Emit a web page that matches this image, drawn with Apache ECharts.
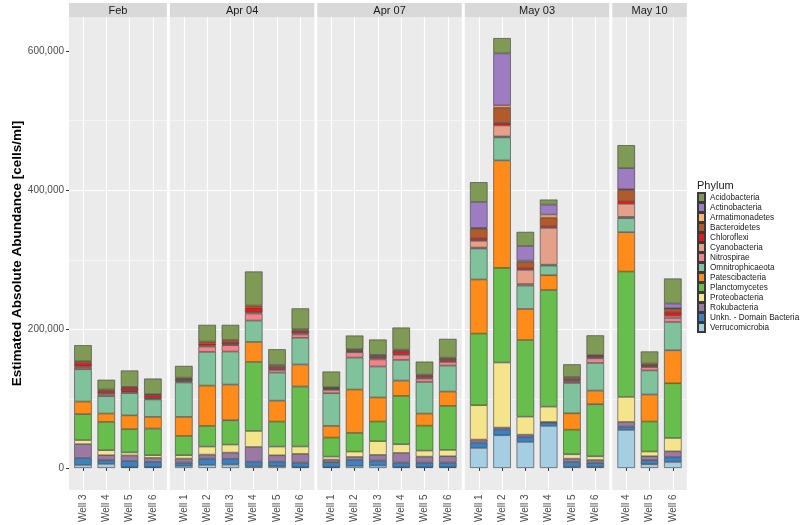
<!DOCTYPE html>
<html><head><meta charset="utf-8">
<script src="https://cdn.jsdelivr.net/npm/echarts@6/dist/echarts.min.js"></script>
<style>html,body{margin:0;padding:0;background:#fff}#chart{width:800px;height:525px}</style>
</head><body><div id="chart"></div>
<script>
// ---------------- DATA ----------------
const facets = ['Feb', 'Apr 04', 'Apr 07', 'May 03', 'May 10'];
const wellsFeb   = ['Well 3', 'Well 4', 'Well 5', 'Well 6'];
const wellsApr04 = ['Well 1', 'Well 2', 'Well 3', 'Well 4', 'Well 5', 'Well 6'];
const wellsApr07 = ['Well 1', 'Well 2', 'Well 3', 'Well 4', 'Well 5', 'Well 6'];
const wellsMay03 = ['Well 1', 'Well 2', 'Well 3', 'Well 4', 'Well 5', 'Well 6'];
const wellsMay10 = ['Well 4', 'Well 5', 'Well 6'];
const yTicks = [0, 200000, 400000, 600000];

// legend order (top of stack first)
const phyla = ['Acidobacteria', 'Actinobacteria', 'Armatimonadetes', 'Bacteroidetes', 'Chloroflexi',
  'Cyanobacteria', 'Nitrospirae', 'Omnitrophicaeota', 'Patescibacteria', 'Planctomycetes',
  'Proteobacteria', 'Rokubacteria', 'Unkn. - Domain Bacteria', 'Verrucomicrobia'];
const phylumColors = ['#7F9A55', '#9D7CC1', '#FDB46E', '#B35A2A', '#E31A1C',
  '#E5A089', '#F3828A', '#80C29B', '#FF8C1A', '#68BE4D',
  '#F4E48C', '#9A7AA4', '#3A82C2', '#A6CEE3'];

// values per bar, in order: Feb(W3..W6), Apr04(W1..W6), Apr07(W1..W6), May03(W1..W6), May10(W4..W6)
const acidobacteria   = [23000, 14000, 23500, 22500,  16800, 24000, 21600, 49000, 22600, 29800,  22600, 19700, 22000, 31700, 18700, 26900,  28300, 22000, 20200, 7200, 18200, 28300,  33100, 17300, 36000];
const actinobacteria  = [0, 0, 0, 0,  0, 0, 0, 0, 0, 0,  0, 0, 0, 0, 0, 0,  37400, 74900, 21100, 14400, 0, 0,  30200, 0, 6700];
const armatimonadetes = [0, 0, 0, 0,  0, 0, 0, 0, 0, 0,  0, 0, 0, 0, 0, 0,  1000, 3400, 1900, 4300, 0, 0,  1000, 0, 500];
const bacteroidetes   = [2900, 2400, 1400, 1400,  1900, 2900, 2900, 2900, 2900, 2400,  1400, 1900, 1900, 1900, 1900, 1900,  13400, 21600, 8600, 12000, 2900, 1400,  16300, 2400, 4800];
const chloroflexi     = [4800, 2900, 4800, 3800,  1900, 2900, 3400, 6700, 2900, 3400,  1000, 1000, 2900, 4300, 2400, 2900,  4300, 3800, 2900, 2900, 2400, 1900,  3800, 1400, 5800];
const cyanobacteria   = [1500, 1900, 1000, 1000,  1400, 1400, 1400, 1900, 1400, 1900,  1400, 1400, 1900, 1400, 1400, 1400,  9600, 15800, 20200, 52800, 1400, 1400,  18700, 1400, 2900];
const nitrospirae     = [2400, 2400, 1900, 1400,  1900, 7700, 9100, 10100, 3800, 4800,  4800, 7700, 10100, 7200, 4800, 5300,  1400, 1400, 2400, 1400, 1900, 6700,  1900, 4800, 5800];
const omnitrophicaeota= [46500, 25000, 32000, 25000,  49400, 48500, 47500, 30700, 40300, 38400,  47000, 46000, 44600, 29800, 45600, 37400,  44600, 33100, 33600, 13900, 43700, 39800,  20200, 34600, 40800];
const patescibacteria = [18000, 12000, 19700, 16800,  27400, 58000, 51400, 28800, 30200, 31700,  16800, 62400, 34600, 22000, 17300, 20600,  77800, 154600, 44600, 21100, 23500, 19700,  56600, 38900, 47500];
const planctomycetes  = [37400, 40800, 33600, 38400,  27800, 29800, 35000, 99400, 36000, 86400,  27400, 26900, 28300, 69600, 36000, 63400,  103200, 136300, 110400, 168000, 35500, 74900,  180500, 43200, 78700];
const proteobacteria  = [5800, 7200, 4300, 3800,  4800, 11500, 11500, 23000, 12500, 10600,  4300, 7700, 19700, 12500, 8600, 9100,  49400, 93600, 25900, 22000, 6200, 5300,  36000, 6700, 19200];
const rokubacteria    = [20000, 7200, 8000, 5800,  5800, 5800, 9100, 21100, 9100, 12500,  3800, 4300, 8200, 13900, 8600, 9100,  4300, 2900, 3800, 1400, 4800, 3800,  6700, 5800, 8600];
const unknBacteria    = [10000, 5300, 9000, 7700,  4800, 9100, 8200, 7200, 6700, 6700,  7200, 8600, 7200, 6700, 6700, 6700,  7700, 8200, 6700, 4300, 7200, 6200,  4800, 5800, 6700];
const verrucomicrobia = [4300, 5800, 1000, 1000,  2900, 4300, 4800, 1900, 2400, 1000,  1000, 2900, 3400, 1000, 1000, 1000,  28800, 47000, 37400, 60500, 1400, 1400,  54700, 5300, 8600];

// ---------------- BUILD ----------------
const facetWells = [wellsFeb, wellsApr04, wellsApr07, wellsMay03, wellsMay10];
const phylumValues = [acidobacteria, actinobacteria, armatimonadetes, bacteroidetes, chloroflexi,
  cyanobacteria, nitrospirae, omnitrophicaeota, patescibacteria, planctomycetes,
  proteobacteria, rokubacteria, unknBacteria, verrucomicrobia];

const FONT = '"Liberation Sans", Arial, sans-serif';
const yMin = -30900, yMax = 649000;
const unit = 23.3, gapPx = 3, left0 = 69, gTop = 17, gHeight = 473;

const grids = [], xAxes = [], yAxes = [], series = [], graphics = [];
let xPos = left0, start = 0;

facets.forEach((facet, k) => {
  const wells = facetWells[k];
  const n = wells.length;
  const pw = (n + 0.2) * unit;
  const bg = grids.length;
  grids.push({ left: xPos, top: gTop, width: pw, height: gHeight, show: true,
    backgroundColor: '#EBEBEB', borderWidth: 0 });
  xAxes.push({ gridIndex: bg, type: 'value', min: 0, max: 1, show: false });
  yAxes.push({
    gridIndex: bg, type: 'value', min: yMin, max: yMax,
    minInterval: 200000, maxInterval: 200000,
    axisLine: { show: false },
    axisTick: { show: k === 0, length: 3, customValues: yTicks, lineStyle: { color: '#333', width: 1 } },
    axisLabel: { show: k === 0, customValues: yTicks, fontSize: 10, color: '#4D4D4D', fontFamily: FONT, margin: 5,
      formatter: v => Number(v).toLocaleString('en-US') },
    splitLine: { show: true, showMinLine: false, showMaxLine: false, lineStyle: { color: '#FFFFFF', width: 1.1 } },
    minorTick: { show: false, splitNumber: 2 },
    minorSplitLine: { show: true, lineStyle: { color: '#FFFFFF', width: 0.5 } },
    name: k === 0 ? 'Estimated Absolute Abundance [cells/ml]' : '',
    nameLocation: 'middle', nameRotate: 90, nameGap: 42,
    nameTextStyle: { fontSize: 13.5, fontWeight: 'bold', color: '#000', fontFamily: FONT }
  });

  const inner = grids.length;
  grids.push({ left: xPos + 0.6 * unit, top: gTop, width: (n - 1) * unit, height: gHeight, show: false });
  xAxes.push({
    gridIndex: inner, type: 'category', data: wells, boundaryGap: false,
    axisLine: { show: false },
    axisTick: { show: true, length: 3, interval: 0, lineStyle: { color: '#333', width: 1 } },
    axisLabel: { interval: 0, rotate: 90, fontSize: 10, color: '#4D4D4D', fontFamily: FONT, margin: 5 },
    splitLine: { show: true, interval: 0, lineStyle: { color: '#FFFFFF', width: 1.1 } }
  });
  yAxes.push({ gridIndex: inner, type: 'value', min: yMin, max: yMax, show: false, splitLine: { show: false } });

  // strip
  graphics.push({ type: 'rect', left: xPos, top: 3, shape: { width: pw, height: 14 }, style: { fill: '#D9D9D9' }, silent: true });
  graphics.push({ type: 'text', x: xPos + pw / 2, y: 10.5, style: { text: facet, fill: '#1A1A1A', font: '11px ' + FONT,
    align: 'center', verticalAlign: 'middle' }, silent: true });

  // stacked bars: bottom of stack = last in legend order
  for (let p = phyla.length - 1; p >= 0; p--) {
    series.push({
      type: 'bar', name: phyla[p], xAxisIndex: inner, yAxisIndex: inner, stack: 'facet' + k,
      data: phylumValues[p].slice(start, start + n).map(v => (v === 0 ? null : v)),
      barWidth: 17.5, clip: false, animation: false,
      itemStyle: { color: phylumColors[p], borderColor: '#3A3A3A', borderWidth: 0.6 },
      emphasis: { disabled: true }, silent: true
    });
  }

  start += n;
  xPos += pw + gapPx;
});

graphics.push({ type: 'text', x: 697, y: 180, style: { text: 'Phylum', fill: '#1A1A1A', font: '11px ' + FONT }, silent: true });

const chart = echarts.init(document.getElementById('chart'), null, { renderer: 'canvas' });
chart.setOption({
  backgroundColor: '#FFFFFF',
  animation: false,
  textStyle: { fontFamily: FONT },
  grid: grids,
  xAxis: xAxes,
  yAxis: yAxes,
  series: series,
  graphic: graphics,
  legend: {
    data: phyla, orient: 'vertical', left: 697, top: 192, padding: 0,
    itemWidth: 7, itemHeight: 9, itemGap: -1, icon: 'rect', selectedMode: false,
    textStyle: { fontSize: 8.2, color: '#1A1A1A', fontFamily: FONT }
  }
});
</script></body></html>
